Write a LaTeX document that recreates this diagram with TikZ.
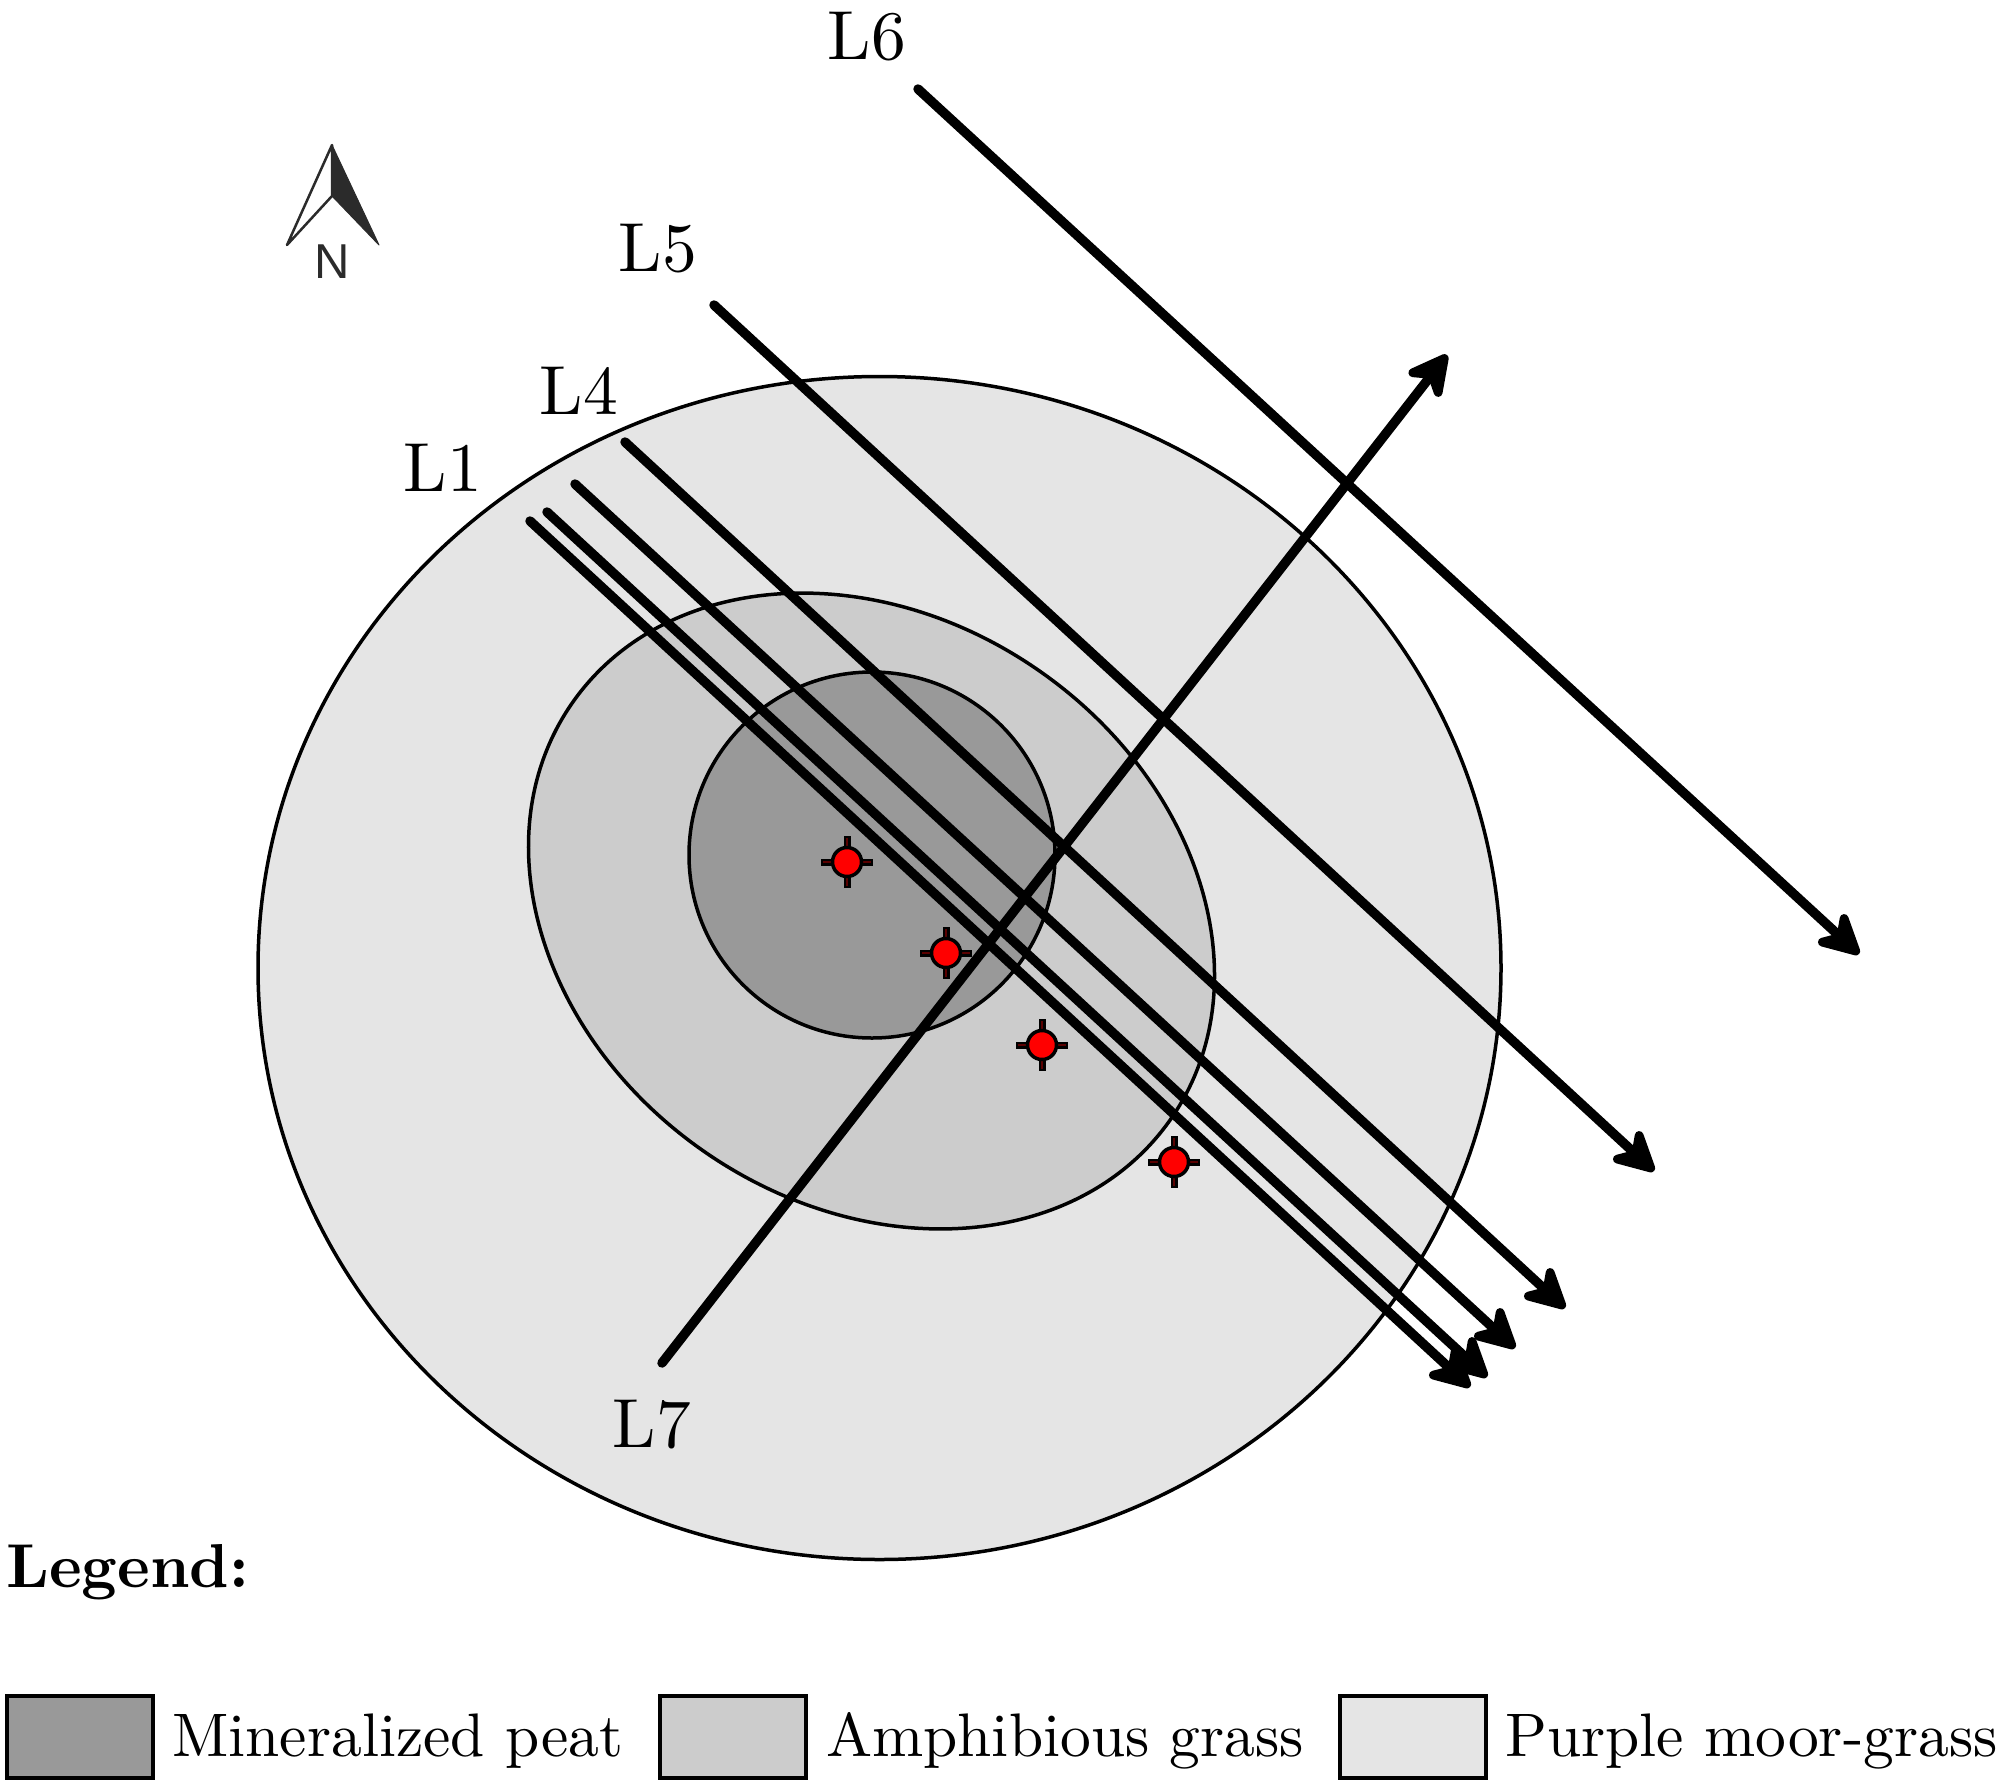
\documentclass[tikz,border=0pt]{standalone}
\usepackage{fontspec}
\setmainfont{lmroman10-regular}[Extension=.otf,BoldFont=lmroman10-bold]
\usetikzlibrary{arrows.meta}
\newfontfamily\northfont{Liberation Sans}
\definecolor{peat}{HTML}{999999}
\definecolor{amph}{HTML}{CCCCCC}
\definecolor{moor}{HTML}{E5E5E5}
\definecolor{darkmark}{HTML}{5A0000}
\definecolor{northdark}{HTML}{2B2B2B}
\tikzset{
  zone/.style={draw=black,line width=3.5pt},
  transect/.style={draw=black,line width=9.5pt,line cap=round,
    -{Stealth[length=52pt,width=54pt,inset=17pt,line width=12pt,round]}},
  linelabel/.style={inner sep=0pt,font=\fontsize{69.5}{80}\selectfont},
  legendbox/.style={draw=black,line width=4pt},
  legendtext/.style={inner sep=0pt,anchor=base west,font=\fontsize{61.5}{70}\selectfont},
  armblack/.style={draw=black,line width=7pt},
  armred/.style={draw=darkmark,line width=1.5pt},
  markdot/.style={draw=black,line width=3.5pt,fill=red},
  sensor/.pic={
    \draw[armblack] (-26,0) -- (26,0) (0,-26) -- (0,26);
    \draw[armred] (-24,0) -- (24,0) (0,-24) -- (0,24);
    \draw[markdot] (0,0) circle (14.5);
  }
}
\begin{document}
\begin{tikzpicture}[x=1pt,y=-1pt]
\useasboundingbox (0,0) rectangle (2000,1783);
% zones
\draw[zone,fill=moor] (879.5,968) ellipse [x radius=621.5,y radius=591.5];
\draw[zone,fill=amph,shift={(871.5,911)},rotate=-34.7] (0,0) ellipse [x radius=364.5,y radius=293];
\draw[zone,fill=peat] (872,855) ellipse [x radius=183,y radius=183];
% end points
\coordinate (a1) at (530,521); \coordinate (b1) at (1470,1387);
\coordinate (a2) at (547,512); \coordinate (b2) at (1487,1377);
\coordinate (a3) at (575,484); \coordinate (b3) at (1515,1348);
\coordinate (a4) at (625,442); \coordinate (b4) at (1565,1308);
\coordinate (a5) at (714,305); \coordinate (b5) at (1654,1171);
\coordinate (a6) at (918,89);  \coordinate (b6) at (1859,954);
\coordinate (a7) at (662,1363); \coordinate (b7) at (1447,355);
% markers beneath transects
\pic at (847,862) {sensor};
\pic at (946,953) {sensor};
\pic at (1042,1045) {sensor};
\pic at (1174,1162) {sensor};
% transects
\draw[transect] (a1) -- (b1);
\draw[transect] (a2) -- (b2);
\draw[transect] (a3) -- (b3);
\draw[transect] (a4) -- (b4);
\draw[transect] (a5) -- (b5);
\draw[transect] (a6) -- (b6);
\draw[transect] (a7) -- (b7);
% labels
\node[linelabel] (l6) at (867,37) {L6};
\node[linelabel] (l5) at (658,249) {L5};
\node[linelabel] (l4) at (579,391) {L4};
\node[linelabel] (l1) at (443,468) {L1};
\node[linelabel] (l7) at (652,1425) {L7};
% north arrow
\coordinate (ntop) at (332,145);
\coordinate (nleft) at (287,245);
\coordinate (nright) at (379,245);
\coordinate (nnotch) at (332,196);
\draw[draw=northdark,line width=2.5pt,line join=round] (ntop) -- (nleft) -- (nnotch) -- cycle;
\fill[northdark,draw=northdark,line width=1pt,line join=round] (ntop) -- (nright) -- (nnotch) -- cycle;
\node[inner sep=0pt,text=northdark,font=\northfont\fontsize{49}{55}\selectfont] (north) at (332,262) {N};
% legend
\node[inner sep=0pt,anchor=base west,font=\fontsize{62}{70}\selectfont\bfseries] (legendhead) at (6,1587) {Legend:};
\draw[legendbox,fill=peat] (7,1696) rectangle (153,1778);
\node[legendtext] (t1) at (172,1756) {Mineralized peat};
\draw[legendbox,fill=amph] (660,1696) rectangle (806,1778);
\node[legendtext] (t2) at (826,1756) {Amphibious grass};
\draw[legendbox,fill=moor] (1340,1696) rectangle (1486,1778);
\node[legendtext] (t3) at (1505,1756) {Purple moor-grass};
\end{tikzpicture}
\end{document}
